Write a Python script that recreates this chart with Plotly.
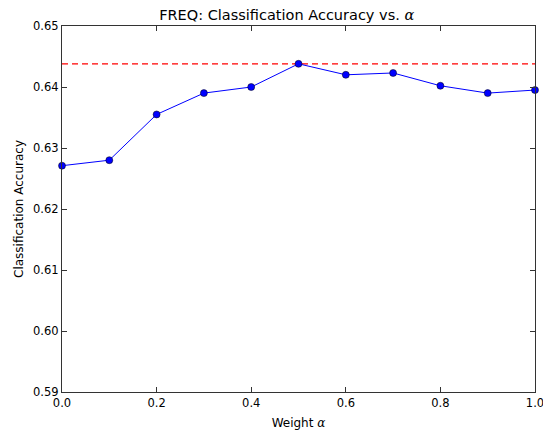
import plotly.graph_objects as go

weights = [0.0, 0.1, 0.2, 0.3, 0.4, 0.5, 0.6, 0.7, 0.8, 0.9, 1.0]
accuracy = [0.6271, 0.6280, 0.6355, 0.6390, 0.6400, 0.6438, 0.6420, 0.6423, 0.6402, 0.6390, 0.6395]
best_accuracy = max(accuracy)
x_ticks = [0.0, 0.2, 0.4, 0.6, 0.8, 1.0]
y_ticks = [0.59, 0.60, 0.61, 0.62, 0.63, 0.64, 0.65]

font = "DejaVu Sans, sans-serif"
alpha = "<span style='font-family:DejaVu Serif'><i>α</i></span>"

fig = go.Figure()
fig.add_trace(go.Scatter(
    x=[weights[0], weights[-1]], y=[best_accuracy, best_accuracy],
    mode="lines", line=dict(color="#ff0000", width=1.2, dash="6px,4px"),
    showlegend=False, hoverinfo="skip", cliponaxis=False,
))
fig.add_trace(go.Scatter(
    x=weights, y=accuracy, mode="lines+markers",
    line=dict(color="#0000ff", width=1),
    marker=dict(color="#0000ff", size=7, line=dict(color="#000000", width=0.5)),
    showlegend=False, cliponaxis=False,
))

axis_common = dict(
    showgrid=False, zeroline=False, showline=True, linecolor="#333333", linewidth=1.3,
    mirror="ticks", ticks="inside", ticklen=5, tickwidth=1, tickcolor="#333333",
    tickfont=dict(family=font, size=11.5, color="#000000"), automargin=False,
    ticklabeloverflow="allow",
)

fig.update_layout(
    width=543, height=430,
    margin=dict(l=62, r=8, t=26, b=38),
    paper_bgcolor="#ffffff", plot_bgcolor="#ffffff",
    title=dict(text="FREQ: Classification Accuracy vs. " + alpha, x=0.528, xanchor="center",
               y=1 - 15 / 430, yanchor="middle",
               font=dict(family=font, size=14.5, color="#000000")),
    xaxis=dict(range=[0, 1], tickvals=x_ticks, ticktext=[f"{v:.1f}" for v in x_ticks],
               title=dict(text="Weight " + alpha, font=dict(family=font, size=12, color="#000000"), standoff=9),
               **axis_common),
    yaxis=dict(range=[0.59, 0.65], tickvals=y_ticks, ticktext=[f"{v:.2f}" for v in y_ticks],
               title=dict(text="Classification Accuracy", font=dict(family=font, size=12, color="#000000"), standoff=6),
               **axis_common),
)

fig.write_html("out.html", config={"displayModeBar": False},
               post_script="document.body.style.margin='0';document.body.style.padding='0';")
